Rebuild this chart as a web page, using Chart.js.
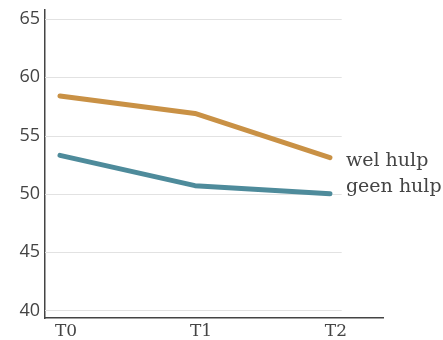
<!DOCTYPE html>
<html>
<head>
<meta charset="utf-8">
<script src="https://cdn.jsdelivr.net/npm/chart.js@4"></script>
<style>
  html, body { margin: 0; padding: 0; background: #fff; }
  #wrap { width: 443px; height: 340px; }
</style>
</head>
<body>
<div id="wrap"><canvas id="chart"></canvas></div>
<script>
// data
const timeLabels = ['T0', 'T1', 'T2'];
const welHulp = [58.4, 56.9, 53.1];
const geenHulp = [53.3, 50.7, 50.0];
const seriesNames = ['wel hulp', 'geen hulp'];
const yTicks = [40, 45, 50, 55, 60, 65];

const orange = '#c99145';
const teal = '#4e8b9b';
const axisColor = '#444';
const textColor = '#444';

let toPoints = (vals) => vals.map((v, i) => ({ x: i, y: v }));

// grid lines stop short of the x axis end
let gridPlugin = {
	id: 'shortGrid',
	beforeDatasetsDraw(chart) {
		let ctx = chart.ctx;
		let xs = chart.scales.x;
		let ys = chart.scales.y;
		let x0 = xs.left;
		let x1 = xs.getPixelForValue(2.087);
		ctx.save();
		ctx.strokeStyle = '#e2e2e2';
		ctx.lineWidth = 1.2;
		yTicks.forEach(v => {
			let y = Math.round(ys.getPixelForValue(v)) + 0.5;
			ctx.beginPath();
			ctx.moveTo(x0, y);
			ctx.lineTo(x1, y);
			ctx.stroke();
		});
		ctx.restore();
	}
};

// series names next to the last points
let endLabels = {
	id: 'endLabels',
	afterDatasetsDraw(chart) {
		let ctx = chart.ctx;
		let xs = chart.scales.x;
		let ys = chart.scales.y;
		let shifts = [3, -7];
		ctx.save();
		ctx.font = '19px "DejaVu Serif"';
		ctx.fillStyle = textColor;
		ctx.textBaseline = 'middle';
		chart.data.datasets.forEach((ds, i) => {
			let last = ds.data[ds.data.length - 1];
			let x = xs.getPixelForValue(last.x) + 16;
			let y = ys.getPixelForValue(last.y) + shifts[i];
			ctx.fillText(seriesNames[i], x, y);
		});
		ctx.restore();
	}
};

let data = {
	datasets: [{
		label: seriesNames[0],
		data: toPoints(welHulp),
		borderColor: orange,
		backgroundColor: orange,
		borderWidth: 5,
		pointRadius: 0,
		borderCapStyle: 'round',
		borderJoinStyle: 'round'
	}, {
		label: seriesNames[1],
		data: toPoints(geenHulp),
		borderColor: teal,
		backgroundColor: teal,
		borderWidth: 5,
		pointRadius: 0,
		borderCapStyle: 'round',
		borderJoinStyle: 'round'
	}]
};

let config = {
	type: 'line',
	data: data,
	options: {
		responsive: true,
		maintainAspectRatio: false,
		animation: false,
		layout: { padding: { top: 10, right: 60, left: 0, bottom: 0 } },
		plugins: {
			legend: { display: false },
			tooltip: { enabled: false }
		},
		scales: {
			x: {
				type: 'linear',
				min: -0.111,
				max: 2.393,
				afterBuildTicks: (s) => { s.ticks = timeLabels.map((t, i) => ({ value: i })); },
				afterFit: (s) => { s.height = 22; s.paddingLeft = 0; s.paddingRight = 0; },
				grid: { display: false, drawTicks: false },
				border: { display: true, color: axisColor, width: 1.5 },
				ticks: {
					callback: (v) => timeLabels[v],
					color: textColor,
					font: { family: 'DejaVu Serif', size: 17 },
					padding: 3,
					labelOffset: 6,
					maxRotation: 0
				}
			},
			y: {
				min: 39.35,
				max: 65.77,
				afterBuildTicks: (s) => { s.ticks = yTicks.map(v => ({ value: v })); },
				afterFit: (s) => { s.width = 45; s.paddingTop = 0; s.paddingBottom = 0; },
				grid: { display: false, drawTicks: false },
				border: { display: true, color: axisColor, width: 1.5 },
				ticks: {
					color: textColor,
					font: { family: 'Open Sans', size: 18 },
					padding: 5
				}
			}
		}
	},
	plugins: [gridPlugin, endLabels]
};

let myChart = new Chart(document.getElementById('chart'), config);
</script>
</body>
</html>
